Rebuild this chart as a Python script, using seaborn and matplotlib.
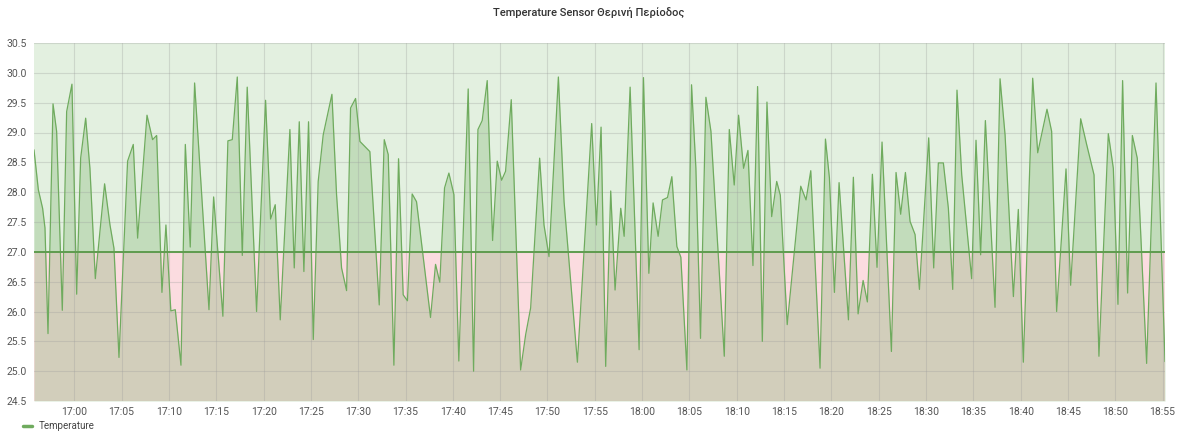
import numpy as np
import pandas as pd
import matplotlib
matplotlib.use("Agg")
import matplotlib.pyplot as plt
import matplotlib.dates as mdates
from matplotlib.lines import Line2D
import seaborn as sns

# ---- data (minutes after 17:00, temperature) ----
t_min = [-4.26, -3.80, -3.35, -3.10, -2.78, -2.25, -1.87, -1.27, -0.81, -0.25,
         0.25, 0.67, 1.20, 1.65, 2.22, 3.20, 3.77, 4.19, 4.72, 5.63,
         6.23, 6.69, 7.68, 8.27, 8.70, 9.26, 9.68, 10.20, 10.67, 11.27,
         11.73, 12.25, 12.71, 14.23, 14.72, 15.70, 16.23, 16.69, 17.22, 17.75,
         18.27, 19.26, 20.21, 20.74, 21.23, 21.76, 22.78, 23.24, 23.77, 24.26,
         24.75, 25.25, 25.77, 26.30, 27.22, 27.71, 28.24, 28.77, 29.19, 29.72,
         30.18, 31.23, 32.22, 32.75, 33.17, 33.77, 34.26, 34.75, 35.20, 35.70,
         36.16, 37.64, 38.17, 38.62, 39.12, 39.58, 40.11, 40.63, 41.62, 42.19,
         42.65, 43.10, 43.63, 44.20, 44.69, 45.15, 45.57, 46.17, 47.16, 47.69,
         48.22, 49.17, 49.63, 50.16, 51.15, 51.75, 53.16, 54.67, 55.17, 55.66,
         56.15, 56.68, 57.14, 57.74, 58.10, 58.73, 59.68, 60.14, 60.71, 61.16,
         61.69, 62.15, 62.68, 63.14, 63.67, 64.09, 64.73, 65.22, 65.68, 66.17,
         66.74, 67.27, 68.68, 69.21, 69.73, 70.19, 70.72, 71.18, 71.71, 72.20,
         72.70, 73.19, 73.69, 74.22, 74.60, 75.33, 76.76, 77.32, 77.82, 78.80,
         79.37, 79.79, 80.32, 80.81, 81.80, 82.32, 82.82, 83.35, 83.80, 84.33,
         84.82, 85.35, 86.34, 86.83, 87.32, 87.82, 88.31, 88.84, 89.30, 90.28,
         90.81, 91.30, 91.83, 92.36, 92.82, 93.27, 93.77, 94.82, 95.28, 95.77,
         96.27, 97.29, 97.82, 98.35, 99.23, 99.75, 100.28, 101.27, 101.80, 102.78,
         103.27, 103.80, 104.79, 105.28, 106.34, 106.97, 107.75, 108.27, 109.26, 109.79,
         110.28, 110.77, 111.30, 111.80, 112.32, 113.31, 114.30, 115.25]

temps = [28.71, 28.04, 27.73, 27.40, 25.63, 29.48, 29.02, 26.02, 29.35, 29.81,
         26.29, 28.57, 29.24, 28.40, 26.55, 28.14, 27.45, 27.06, 25.23, 28.52,
         28.80, 27.23, 29.29, 28.88, 28.95, 26.32, 27.45, 26.01, 26.03, 25.10,
         28.80, 27.08, 29.83, 26.03, 27.92, 25.92, 28.86, 28.88, 29.93, 26.94,
         29.76, 26.00, 29.54, 27.55, 27.79, 25.86, 29.05, 26.73, 29.18, 26.67,
         29.18, 25.53, 28.18, 28.96, 29.64, 27.96, 26.73, 26.35, 29.41, 29.57,
         28.85, 28.68, 26.11, 28.88, 28.63, 25.10, 28.56, 26.28, 26.18, 27.97,
         27.84, 25.90, 26.79, 26.49, 28.07, 28.32, 27.96, 25.17, 29.73, 25.00,
         29.05, 29.20, 29.87, 27.19, 28.52, 28.20, 28.35, 29.55, 25.02, 25.61,
         26.06, 28.57, 27.45, 26.92, 29.93, 27.84, 25.15, 29.15, 27.45, 29.09,
         25.08, 28.02, 26.36, 27.73, 27.26, 29.76, 25.36, 29.92, 26.64, 27.82,
         27.26, 27.87, 27.91, 28.26, 27.09, 26.91, 25.02, 29.80, 28.40, 25.55,
         29.59, 29.02, 25.25, 29.05, 28.12, 29.29, 28.40, 28.70, 26.77, 29.77,
         25.50, 29.51, 27.59, 28.18, 27.95, 25.78, 28.10, 27.87, 28.36, 25.05,
         28.89, 28.24, 26.32, 28.16, 25.86, 28.25, 25.96, 26.52, 26.16, 28.30,
         26.74, 28.84, 25.33, 28.33, 27.63, 28.33, 27.51, 27.29, 26.37, 28.91,
         26.73, 28.49, 28.49, 27.73, 26.37, 29.71, 28.29, 26.55, 28.87, 26.95,
         29.20, 26.07, 29.90, 28.96, 26.25, 27.71, 25.15, 29.91, 28.66, 29.39,
         29.02, 26.00, 28.39, 26.44, 29.23, 28.80, 28.29, 25.25, 28.98, 28.40,
         26.12, 29.87, 26.31, 28.95, 28.57, 25.13, 29.83, 25.16]

threshold = 27.0
y_ticks = [24.5, 25.0, 25.5, 26.0, 26.5, 27.0, 27.5, 28.0, 28.5, 29.0, 29.5, 30.0, 30.5]
title = "Temperature Sensor Θερινή Περίοδος"
series_name = "Temperature"

# ---- build frame ----
base = pd.Timestamp("2021-07-01 17:00:00")
df = pd.DataFrame({"time": base + pd.to_timedelta(t_min, unit="min"), "temp": temps})

sns.set_theme(style="white")
plt.rcParams["font.family"] = ["Roboto", "DejaVu Sans"]

fig = plt.figure(figsize=(11.77, 4.32), dpi=100)
ax = fig.add_axes([34 / 1177, 1 - 401 / 432, (1165 - 34) / 1177, (401 - 43) / 432])

y_lo, y_hi = y_ticks[0], y_ticks[-1]
ax.axhspan(threshold, y_hi, color="#e3f0e0", zorder=0, lw=0)
ax.axhspan(y_lo, threshold, color="#fbdce0", zorder=0, lw=0)

ax.fill_between(df["time"], y_lo, df["temp"], color="#7eb26d", alpha=0.32, lw=0, zorder=1)
sns.lineplot(data=df, x="time", y="temp", ax=ax, color="#6fab5e", linewidth=0.9, zorder=3)
ax.axhline(threshold, color="#5f9c4f", linewidth=1.4, zorder=4)

ax.set_xlim(df["time"].iloc[0], df["time"].iloc[-1])
ax.set_ylim(y_lo, y_hi)
ax.set_yticks(y_ticks)
ax.set_yticklabels([f"{v:.1f}" for v in y_ticks])
ax.xaxis.set_major_locator(mdates.MinuteLocator(byminute=range(0, 60, 5)))
ax.xaxis.set_major_formatter(mdates.DateFormatter("%H:%M"))

ax.grid(True, color="#9a9a9a", alpha=0.3, linewidth=0.8, zorder=2)
ax.set_axisbelow(False)
for s in ax.spines.values():
    s.set_visible(False)
ax.tick_params(axis="both", length=0, labelsize=7.5, colors="#555555")
ax.tick_params(axis="y", pad=5)
ax.tick_params(axis="x", pad=4)
ax.set_xlabel("")
ax.set_ylabel("")

fig.text(0.5, 1 - 13 / 432, title, ha="center", va="center", fontsize=8,
         fontweight="medium", color="#333333")

handle = Line2D([0], [0], color="#6fab5e", linewidth=2.5)
fig.legend([handle], [series_name], loc="center left",
           bbox_to_anchor=(14 / 1177, 1 - 426 / 432), frameon=False,
           fontsize=7, handlelength=1.0, handletextpad=0.6, labelcolor="#444444")

fig.savefig("out.png", dpi=100)
